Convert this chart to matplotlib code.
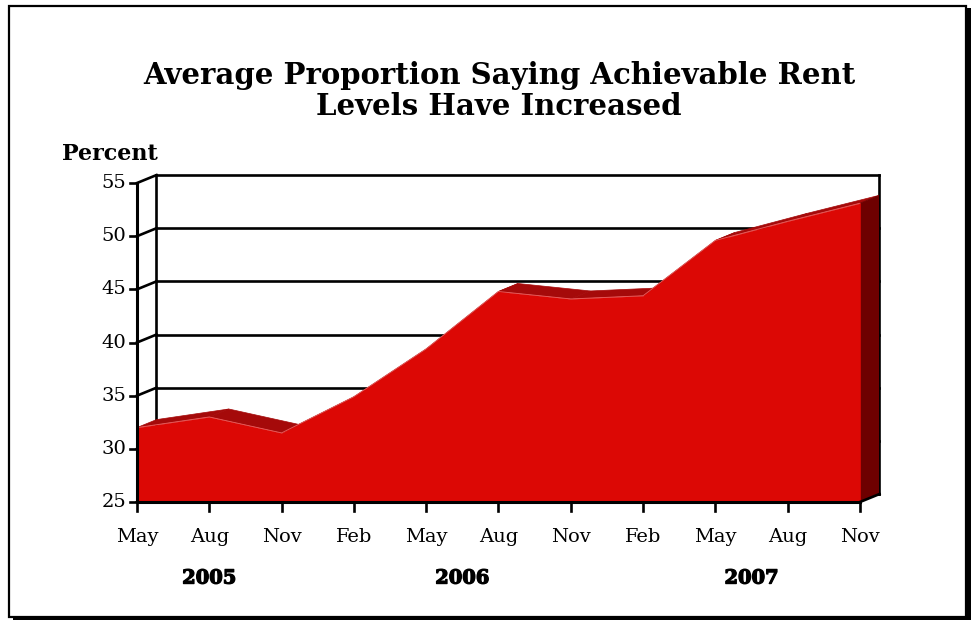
import matplotlib
matplotlib.use("Agg")
import matplotlib.pyplot as plt
import matplotlib.patheffects as pe
from matplotlib.patches import Polygon, Rectangle

# ── datos ──────────────────────────────────────────────
months = ["May", "Aug", "Nov", "Feb", "May", "Aug", "Nov", "Feb", "May", "Aug", "Nov"]
values = [32.0, 33.0, 31.5, 34.9, 39.4, 44.8, 44.1, 44.4, 49.6, 51.4, 53.1]
years = ["2005", "2006", "2007"]
year_pos = [1, 4.5, 8.5]
yticks = [25, 30, 35, 40, 45, 50, 55]

FRONT = "#DC0805"
TOP = "#A50A0A"
SIDE = "#6E0000"
SERIF = "DejaVu Serif"

# profundidad del efecto 3D (unidades de datos)
DX, DY = 0.27, 0.75
YMIN, YMAX = 25, 55
n = len(values)
xs = list(range(n))

fig = plt.figure(figsize=(9.72, 6.21), dpi=100)

# marco con sombra
fig.add_artist(Rectangle((13 / 972, 1 / 621), 958 / 972, 612 / 621, transform=fig.transFigure,
                         facecolor="black", edgecolor="none", zorder=0))
fig.add_artist(Rectangle((9 / 972, 4 / 621), 957 / 972, 611 / 621, transform=fig.transFigure,
                         facecolor="white", edgecolor="black", linewidth=1.6, zorder=1))

ax = fig.add_axes([0.1409, 0.1916, 0.7639, 0.5265])
ax.set_xlim(0, n - 1 + DX)
ax.set_ylim(YMIN, YMAX + DY)
ax.set_facecolor("none")
ax.axis("off")
ax.set_zorder(2)

lw = 1.9
# grilla: pared trasera + diagonal en la pared izquierda
for v in yticks:
    ax.plot([DX, n - 1 + DX], [v + DY, v + DY], color="black", lw=lw, zorder=1, clip_on=False)
    ax.plot([0, DX], [v, v + DY], color="black", lw=lw, zorder=1, clip_on=False)
    ax.plot([-0.1, 0], [v, v], color="black", lw=lw, zorder=6, clip_on=False)

# aristas de la caja
ax.plot([DX, DX], [YMIN + DY, YMAX + DY], color="black", lw=lw, zorder=1, clip_on=False)
ax.plot([n - 1 + DX, n - 1 + DX], [YMIN + DY, YMAX + DY], color="black", lw=lw, zorder=1, clip_on=False)
ax.plot([0, 0], [YMIN, YMAX], color="black", lw=lw + 0.3, zorder=6, clip_on=False)
ax.plot([0, n - 1], [YMIN, YMIN], color="black", lw=lw + 0.3, zorder=6, clip_on=False)
ax.plot([n - 1, n - 1 + DX], [YMIN, YMIN + DY], color="black", lw=lw, zorder=6, clip_on=False)
for x in xs:
    ax.plot([x, x], [YMIN, YMIN - 0.85], color="black", lw=lw, zorder=6, clip_on=False)

# superficie superior
for i in range(n - 1):
    quad = [(xs[i], values[i]), (xs[i + 1], values[i + 1]),
            (xs[i + 1] + DX, values[i + 1] + DY), (xs[i] + DX, values[i] + DY)]
    ax.add_patch(Polygon(quad, closed=True, facecolor=TOP, edgecolor=TOP, lw=0.5, zorder=3))

# lado derecho
side = [(xs[-1], YMIN), (xs[-1], values[-1]), (xs[-1] + DX, values[-1] + DY), (xs[-1] + DX, YMIN + DY)]
ax.add_patch(Polygon(side, closed=True, facecolor=SIDE, edgecolor=SIDE, lw=0.5, zorder=3))

# cara frontal
ax.fill_between(xs, YMIN, values, facecolor=FRONT, edgecolor=FRONT, lw=0.5, zorder=4)
ax.plot(xs, values, color="#E86060", lw=0.6, zorder=5)

# etiquetas
for v in yticks:
    ax.text(-0.15, v, str(v), ha="right", va="center", fontsize=14, family=SERIF, zorder=7)
for x, m in zip(xs, months):
    ax.text(x, YMIN - 3.3, m, ha="center", va="center", fontsize=14, family=SERIF)
heavy = [pe.withStroke(linewidth=0.9, foreground="black")]
for x, yr in zip(year_pos, years):
    ax.text(x, YMIN - 7.2, yr, ha="center", va="center", fontsize=14, family=SERIF,
            weight="bold", path_effects=heavy)

fig.text(62 / 972, 1 - 154 / 621, "Percent", ha="left", va="center", fontsize=16,
         family=SERIF, weight="bold")
fig.text(499 / 972, 1 - 91 / 621, "Average Proportion Saying Achievable Rent\nLevels Have Increased",
         ha="center", va="center", fontsize=21, family=SERIF, weight="bold", linespacing=1.05)

fig.savefig("out.png", dpi=100)
